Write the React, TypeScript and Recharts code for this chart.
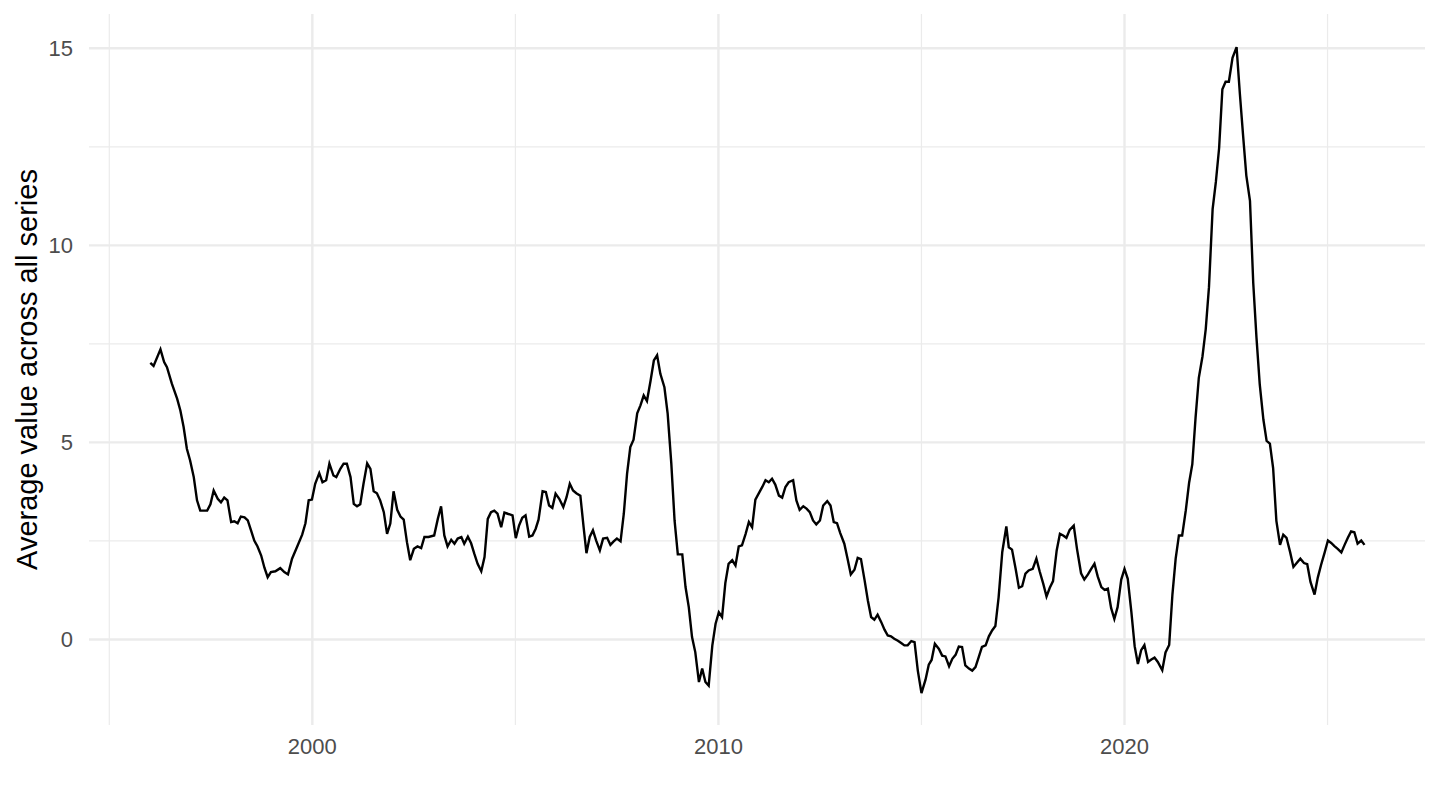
import React from "react";
import { LineChart, Line, XAxis, YAxis, CartesianGrid, Label } from "recharts";

const dates: number[] = [
  1996.01, 1996.09, 1996.26, 1996.35, 1996.42, 1996.54, 1996.67, 1996.75, 1996.83, 1996.91,
  1996.99, 1997.08, 1997.16, 1997.24, 1997.41, 1997.49, 1997.57, 1997.67, 1997.75, 1997.83,
  1997.91, 1998.0, 1998.08, 1998.16, 1998.24, 1998.33, 1998.41, 1998.49, 1998.57, 1998.65,
  1998.74, 1998.82, 1998.9, 1998.98, 1999.09, 1999.21, 1999.31, 1999.4, 1999.5, 1999.62,
  1999.75, 1999.83, 1999.91, 1999.99, 2000.07, 2000.17, 2000.25, 2000.34, 2000.42, 2000.52,
  2000.59, 2000.69, 2000.77, 2000.85, 2000.94, 2001.02, 2001.1, 2001.18, 2001.26, 2001.35,
  2001.43, 2001.51, 2001.59, 2001.67, 2001.76, 2001.84, 2001.92, 2002.0, 2002.09, 2002.17,
  2002.25, 2002.33, 2002.41, 2002.5, 2002.59, 2002.68, 2002.76, 2002.86, 2003.0, 2003.09,
  2003.17, 2003.25, 2003.33, 2003.42, 2003.5, 2003.58, 2003.67, 2003.74, 2003.83, 2003.91,
  2003.99, 2004.07, 2004.16, 2004.24, 2004.32, 2004.4, 2004.48, 2004.56, 2004.65, 2004.73,
  2004.81, 2004.93, 2005.01, 2005.09, 2005.17, 2005.25, 2005.34, 2005.42, 2005.5, 2005.57,
  2005.67, 2005.75, 2005.83, 2005.91, 2005.99, 2006.08, 2006.18, 2006.26, 2006.34, 2006.42,
  2006.5, 2006.6, 2006.68, 2006.75, 2006.83, 2006.91, 2006.99, 2007.08, 2007.16, 2007.26,
  2007.34, 2007.42, 2007.5, 2007.59, 2007.67, 2007.75, 2007.83, 2007.91, 2008.0, 2008.08,
  2008.16, 2008.24, 2008.33, 2008.41, 2008.49, 2008.57, 2008.67, 2008.75, 2008.84, 2008.92,
  2009.0, 2009.11, 2009.19, 2009.27, 2009.35, 2009.43, 2009.52, 2009.6, 2009.68, 2009.76,
  2009.85, 2009.93, 2010.01, 2010.09, 2010.17, 2010.25, 2010.34, 2010.42, 2010.5, 2010.58,
  2010.67, 2010.75, 2010.83, 2010.91, 2010.99, 2011.08, 2011.16, 2011.24, 2011.32, 2011.4,
  2011.49, 2011.57, 2011.65, 2011.73, 2011.84, 2011.92, 2012.0, 2012.09, 2012.17, 2012.25,
  2012.33, 2012.41, 2012.5, 2012.58, 2012.68, 2012.76, 2012.84, 2012.92, 2013.0, 2013.1,
  2013.18, 2013.26, 2013.35, 2013.43, 2013.51, 2013.6, 2013.68, 2013.76, 2013.84, 2013.92,
  2014.01, 2014.09, 2014.17, 2014.25, 2014.33, 2014.42, 2014.5, 2014.58, 2014.66, 2014.75,
  2014.83, 2014.91, 2015.0, 2015.1, 2015.18, 2015.25, 2015.33, 2015.43, 2015.51, 2015.59,
  2015.68, 2015.76, 2015.84, 2015.92, 2016.0, 2016.08, 2016.17, 2016.25, 2016.33, 2016.41,
  2016.49, 2016.58, 2016.66, 2016.74, 2016.82, 2016.9, 2016.99, 2017.09, 2017.15, 2017.23,
  2017.32, 2017.4, 2017.48, 2017.56, 2017.64, 2017.74, 2017.83, 2017.91, 2018.0, 2018.08,
  2018.16, 2018.24, 2018.33, 2018.41, 2018.49, 2018.57, 2018.65, 2018.75, 2018.83, 2018.93,
  2019.01, 2019.1, 2019.18, 2019.26, 2019.34, 2019.43, 2019.51, 2019.59, 2019.67, 2019.75,
  2019.83, 2019.92, 2020.0, 2020.08, 2020.17, 2020.25, 2020.33, 2020.41, 2020.49, 2020.58,
  2020.66, 2020.74, 2020.82, 2020.93, 2021.01, 2021.1, 2021.18, 2021.26, 2021.34, 2021.42,
  2021.51, 2021.59, 2021.67, 2021.75, 2021.83, 2021.92, 2022.0, 2022.08, 2022.17, 2022.25,
  2022.33, 2022.41, 2022.49, 2022.57, 2022.66, 2022.76, 2022.84, 2022.92, 2023.0, 2023.09,
  2023.17, 2023.25, 2023.33, 2023.42, 2023.5, 2023.58, 2023.66, 2023.74, 2023.83, 2023.91,
  2023.99, 2024.08, 2024.16, 2024.24, 2024.33, 2024.42, 2024.5, 2024.58, 2024.68, 2024.76,
  2024.84, 2024.93, 2025.01, 2025.09, 2025.17, 2025.25, 2025.34, 2025.42, 2025.5, 2025.58,
  2025.66, 2025.74, 2025.83, 2025.91,
];

// Average value across all series at each date
const values: number[] = [
  7.02, 6.94, 7.36, 7.04, 6.91, 6.49, 6.11, 5.81, 5.39, 4.84,
  4.54, 4.12, 3.53, 3.27, 3.27, 3.43, 3.78, 3.57, 3.48, 3.6,
  3.53, 2.98, 3.0, 2.95, 3.12, 3.1, 3.02, 2.77, 2.51, 2.36,
  2.13, 1.82, 1.58, 1.71, 1.73, 1.81, 1.71, 1.65, 2.05, 2.34,
  2.66, 2.95, 3.53, 3.55, 3.95, 4.22, 3.99, 4.04, 4.46, 4.16,
  4.12, 4.33, 4.46, 4.46, 4.12, 3.44, 3.38, 3.43, 3.95, 4.47,
  4.33, 3.76, 3.71, 3.53, 3.23, 2.68, 2.94, 3.76, 3.29, 3.12,
  3.04, 2.47, 2.01, 2.3, 2.36, 2.32, 2.6, 2.6, 2.64, 3.06,
  3.38, 2.64, 2.36, 2.53, 2.43, 2.56, 2.6, 2.43, 2.61, 2.44,
  2.17, 1.92, 1.73, 2.09, 3.06, 3.23, 3.27, 3.19, 2.85, 3.22,
  3.19, 3.15, 2.57, 2.89, 3.09, 3.15, 2.61, 2.64, 2.81, 3.04,
  3.76, 3.74, 3.4, 3.34, 3.7, 3.57, 3.36, 3.61, 3.95, 3.78,
  3.71, 3.65, 2.85, 2.19, 2.6, 2.77, 2.51, 2.26, 2.56, 2.58,
  2.4, 2.49, 2.56, 2.49, 3.19, 4.2, 4.88, 5.07, 5.74, 5.94,
  6.19, 6.05, 6.57, 7.08, 7.21, 6.74, 6.4, 5.73, 4.46, 3.02,
  2.16, 2.16, 1.33, 0.82, 0.06, -0.32, -1.08, -0.74, -1.08, -1.17,
  -0.15, 0.4, 0.69, 0.57, 1.43, 1.92, 2.01, 1.88, 2.36, 2.39,
  2.68, 2.98, 2.85, 3.55, 3.7, 3.87, 4.04, 3.99, 4.08, 3.93,
  3.65, 3.6, 3.87, 3.99, 4.04, 3.53, 3.29, 3.38, 3.32, 3.23,
  3.02, 2.92, 3.02, 3.4, 3.51, 3.4, 2.98, 2.95, 2.7, 2.43,
  2.05, 1.65, 1.77, 2.07, 2.04, 1.5, 0.99, 0.57, 0.5, 0.63,
  0.44, 0.25, 0.1, 0.08, 0.02, -0.03, -0.09, -0.15, -0.15, -0.04,
  -0.07, -0.79, -1.36, -1.02, -0.64, -0.52, -0.11, -0.24, -0.41, -0.43,
  -0.68, -0.49, -0.39, -0.18, -0.19, -0.66, -0.74, -0.79, -0.7, -0.45,
  -0.19, -0.15, 0.08, 0.23, 0.34, 1.07, 2.22, 2.87, 2.34, 2.28,
  1.79, 1.31, 1.35, 1.67, 1.75, 1.79, 2.05, 1.73, 1.41, 1.09,
  1.31, 1.48, 2.26, 2.68, 2.64, 2.58, 2.78, 2.89, 2.3, 1.68,
  1.52, 1.65, 1.79, 1.92, 1.6, 1.33, 1.26, 1.29, 0.8, 0.52,
  0.82, 1.52, 1.79, 1.54, 0.69, -0.17, -0.62, -0.27, -0.14, -0.57,
  -0.51, -0.46, -0.57, -0.78, -0.33, -0.14, 1.14, 2.05, 2.64, 2.64,
  3.28, 3.97, 4.45, 5.63, 6.64, 7.18, 7.87, 8.94, 10.92, 11.61,
  12.47, 13.96, 14.15, 14.15, 14.76, 15.03, 13.86, 12.79, 11.77, 11.13,
  9.05, 7.66, 6.48, 5.58, 5.04, 4.97, 4.35, 3.01, 2.4, 2.66,
  2.58, 2.21, 1.84, 1.94, 2.05, 1.94, 1.91, 1.46, 1.14, 1.57,
  1.89, 2.21, 2.51, 2.45, 2.37, 2.3, 2.21, 2.4, 2.58, 2.74,
  2.72, 2.43, 2.51, 2.4,
];

const xTicks: number[] = [2000, 2010, 2020];
const xMinorTicks: number[] = [1995, 2005, 2015, 2025];
const yTicks: number[] = [0, 5, 10, 15];
const yMinorTicks: number[] = [2.5, 7.5, 12.5];
const xDomain: [number, number] = [1994.5, 2027.4];
const yDomain: [number, number] = [-2.17, 15.87];
const yTitle = "Average value across all series";

const data = dates.map((d, i) => ({ year: d, value: values[i] }));

const FONT = "'Liberation Sans', Arial, Helvetica, sans-serif";

const YTitle = (props: any) => {
  const vb = props.viewBox || { x: 0, y: 0, width: 0, height: 0 };
  const cx = vb.x + 37;
  const cy = vb.y + vb.height / 2;
  return (
    <text
      x={cx}
      y={cy}
      transform={`rotate(-90, ${cx}, ${cy})`}
      textAnchor="middle"
      fontSize={29}
      fill="#000000"
      fontFamily={FONT}
    >
      {yTitle}
    </text>
  );
};

export default function App() {
  return (
    <div
      style={{
        position: "absolute",
        left: 0,
        top: 0,
        width: 1440,
        height: 810,
        background: "#ffffff",
        fontFamily: FONT,
      }}
    >
      <LineChart
        width={1440}
        height={810}
        data={data}
        margin={{ top: 14, right: 15, bottom: 55, left: 0 }}
        style={{ fontFamily: FONT }}
      >
        <CartesianGrid
          stroke="#EBEBEB"
          strokeWidth={1.2}
          horizontalValues={yMinorTicks}
          verticalValues={xMinorTicks}
        />
        <CartesianGrid
          stroke="#EBEBEB"
          strokeWidth={2.4}
          horizontalValues={yTicks}
          verticalValues={xTicks}
        />
        <XAxis
          type="number"
          dataKey="year"
          domain={xDomain}
          ticks={xTicks}
          allowDataOverflow
          axisLine={false}
          tickLine={false}
          tickSize={0}
          tickMargin={13}
          height={30}
          tick={{ fill: "#4D4D4D", fontSize: 22, fontFamily: FONT }}
        />
        <YAxis
          type="number"
          domain={yDomain}
          ticks={yTicks}
          allowDataOverflow
          axisLine={false}
          tickLine={false}
          tickSize={0}
          tickMargin={16}
          width={89}
          tick={{ fill: "#4D4D4D", fontSize: 22, fontFamily: FONT }}
        >
          <Label content={<YTitle />} />
        </YAxis>
        <Line
          type="linear"
          dataKey="value"
          stroke="#000000"
          strokeWidth={2.4}
          dot={false}
          activeDot={false}
          isAnimationActive={false}
        />
      </LineChart>
    </div>
  );
}
